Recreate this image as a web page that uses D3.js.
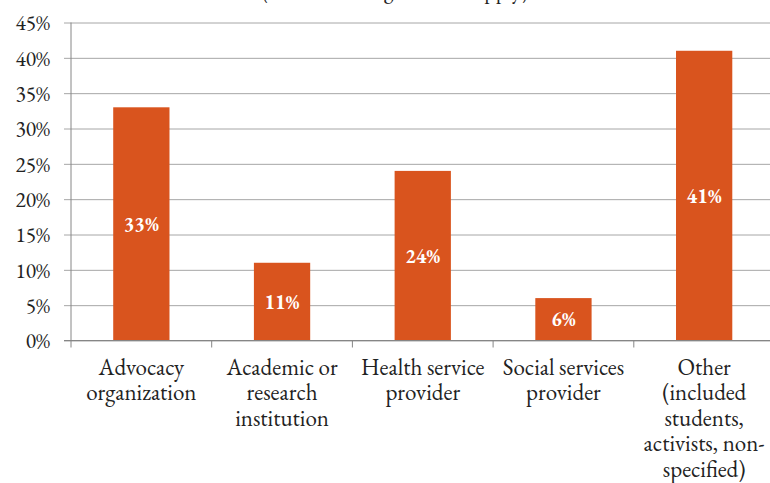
<!DOCTYPE html>
<html>
<head>
<meta charset="utf-8">
<script src="https://cdn.jsdelivr.net/npm/d3@7"></script>
<style>
  html, body { margin: 0; padding: 0; background: #fff; }
  svg { display: block; }
</style>
</head>
<body>
<svg id="chart" width="770" height="483"></svg>
<script>
const categories = [
  ["Advocacy", "organization"],
  ["Academic or", "research", "institution"],
  ["Health service", "provider"],
  ["Social services", "provider"],
  ["Other", "(included", "students,", "activists, non-", "specified)"]
];
const values = [0.33, 0.11, 0.24, 0.06, 0.41];
const valueLabels = ["33%", "11%", "24%", "6%", "41%"];
const yTicks = [0, 0.05, 0.10, 0.15, 0.20, 0.25, 0.30, 0.35, 0.40, 0.45];
const titleText = "(Check all categories that apply)";

const FONT = '"EB Garamond"';
const svg = d3.select("#chart");
const margin = { left: 71, right: -4.5, top: 22.5, bottom: 142.5 };
const W = 770, H = 483;

const x = d3.scaleBand()
  .domain(d3.range(categories.length))
  .range([margin.left, W - margin.right])
  .paddingInner(0.6).paddingOuter(0.3);
const xEdge = d3.scaleLinear()
  .domain([0, categories.length])
  .range([margin.left, W - margin.right]);
const y = d3.scaleLinear()
  .domain([0, 0.45])
  .range([H - margin.bottom, margin.top]);

// title (cut off at top, as in the reference)
svg.append("text")
  .attr("x", 395).attr("y", -2)
  .attr("text-anchor", "middle")
  .style("font-family", FONT)
  .attr("font-size", 22)
  .attr("fill", "#222")
  .text(titleText);

// gridlines + y ticks
const yAxis = d3.axisLeft(y)
  .tickValues(yTicks)
  .tickFormat(d3.format(".0%"))
  .tickSize(0)
  .tickPadding(20);
const gy = svg.append("g")
  .attr("transform", `translate(${margin.left},0)`)
  .call(yAxis);
gy.select(".domain").remove();
gy.selectAll(".tick line")
  .attr("x1", -7).attr("x2", W - margin.left + 10)
  .attr("stroke", "#a6a6a6").attr("stroke-width", 1);
gy.selectAll(".tick text")
  .style("font-family", FONT)
  .attr("font-size", 21.5)
  .attr("fill", "#222")
  .attr("x", -21)
  .attr("dy", "0.34em");

// bars
svg.append("g").selectAll("rect")
  .data(values)
  .join("rect")
  .attr("x", (d, i) => x(i))
  .attr("width", x.bandwidth())
  .attr("y", d => y(d))
  .attr("height", d => y(0) - y(d))
  .attr("fill", "#d9541e");

// value labels
svg.append("g").selectAll("text")
  .data(values)
  .join("text")
  .attr("x", (d, i) => x(i) + x.bandwidth() / 2)
  .attr("y", d => (y(d) + y(0)) / 2)
  .attr("dy", "0.35em")
  .attr("text-anchor", "middle")
  .style("font-family", FONT)
  .attr("font-size", 20)
  .attr("font-weight", "bold")
  .attr("fill", "#fff")
  .text((d, i) => valueLabels[i]);

// y axis line
svg.append("line")
  .attr("x1", margin.left).attr("x2", margin.left)
  .attr("y1", y(0.45)).attr("y2", y(0))
  .attr("stroke", "#868686");

// x axis line + ticks
svg.append("line")
  .attr("x1", margin.left - 7).attr("x2", W)
  .attr("y1", y(0)).attr("y2", y(0))
  .attr("stroke", "#868686");
svg.append("g").selectAll("line")
  .data(d3.range(categories.length + 1))
  .join("line")
  .attr("x1", d => xEdge(d)).attr("x2", d => xEdge(d))
  .attr("y1", y(0)).attr("y2", y(0) + 7)
  .attr("stroke", "#868686");

// category labels
const cl = svg.append("g").selectAll("text")
  .data(categories)
  .join("text")
  .attr("text-anchor", "middle")
  .style("font-family", FONT)
  .attr("font-size", 23)
  .attr("fill", "#222")
  .attr("transform", (d, i) => `translate(${x(i) + x.bandwidth() / 2},${y(0) + 34})`);
cl.selectAll("tspan")
  .data(d => d)
  .join("tspan")
  .attr("x", 0)
  .attr("y", (d, j) => j * 25.5)
  .text(d => d);
</script>
</body>
</html>
